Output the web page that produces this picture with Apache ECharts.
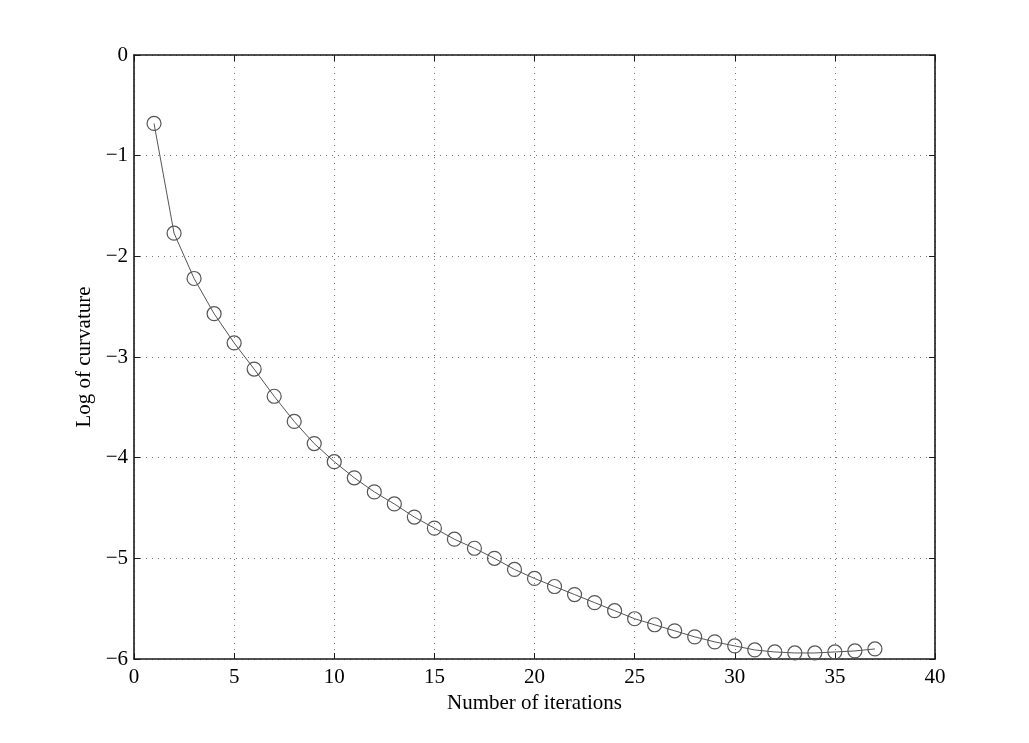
<!DOCTYPE html>
<html>
<head>
<meta charset="utf-8">
<script src="https://cdn.jsdelivr.net/npm/echarts@6/dist/echarts.min.js"></script>
<style>
  html, body { margin: 0; padding: 0; background: #fff; }
  #chart { width: 1029px; height: 743px; }
</style>
</head>
<body>
<div id="chart"></div>
<script>
// iterations and log of curvature
const iterations = [1, 2, 3, 4, 5, 6, 7, 8, 9, 10, 11, 12, 13, 14, 15, 16, 17, 18, 19,
  20, 21, 22, 23, 24, 25, 26, 27, 28, 29, 30, 31, 32, 33, 34, 35, 36, 37];
const logCurvature = [-0.68, -1.77, -2.22, -2.57, -2.86, -3.12, -3.39, -3.64, -3.86, -4.04,
  -4.20, -4.34, -4.46, -4.59, -4.70, -4.81, -4.90, -5.00, -5.11, -5.20,
  -5.28, -5.36, -5.44, -5.52, -5.60, -5.66, -5.72, -5.78, -5.83, -5.87,
  -5.91, -5.93, -5.94, -5.94, -5.93, -5.92, -5.90];

const font = "Liberation Serif";
const minus = v => String(v).replace("-", "\u2212");

const points = iterations.map((x, i) => [x, logCurvature[i]]);

// onZero off, otherwise the x axis sits on y=0 (the top edge)
const frameLine = () => ({ show: true, onZero: false, lineStyle: { color: "#1a1a1a", width: 1.6 } });
// ticks pointing into the plot, like the original
const tick = () => ({ show: true, inside: true, length: 6, lineStyle: { color: "#1a1a1a", width: 1 } });
const dotted = { show: true, lineStyle: { color: "#777", type: [1, 5], width: 1 } };

const option = {
  animation: false,
  backgroundColor: "#fff",
  grid: { left: 134, right: 94, top: 55, bottom: 84, containLabel: false },
  xAxis: [
    {
      type: "value", min: 0, max: 40, interval: 5, position: "bottom",
      name: "Number of iterations", nameLocation: "middle", nameGap: 33,
      nameTextStyle: { fontFamily: font, fontSize: 21, color: "#000" },
      axisLine: frameLine(), axisTick: tick(), splitLine: dotted,
      axisLabel: { fontFamily: font, fontSize: 21, color: "#000", margin: 8 }
    },
    {
      type: "value", min: 0, max: 40, interval: 5, position: "top",
      axisLine: frameLine(), axisTick: tick(), splitLine: { show: false },
      axisLabel: { show: false }
    }
  ],
  yAxis: [
    {
      type: "value", min: -6, max: 0, interval: 1, position: "left",
      name: "Log of curvature", nameLocation: "middle", nameGap: 37,
      nameTextStyle: { fontFamily: font, fontSize: 21, color: "#000" },
      axisLine: frameLine(), axisTick: tick(), splitLine: dotted,
      axisLabel: { fontFamily: font, fontSize: 21, color: "#000", margin: 6, formatter: minus }
    },
    {
      type: "value", min: -6, max: 0, interval: 1, position: "right",
      axisLine: frameLine(), axisTick: tick(), splitLine: { show: false },
      axisLabel: { show: false }
    }
  ],
  series: [
    {
      type: "line",
      data: points,
      xAxisIndex: 0, yAxisIndex: 0,
      symbol: "circle", symbolSize: 14,
      lineStyle: { color: "#555", width: 1 },
      itemStyle: { color: "transparent", borderColor: "#555", borderWidth: 1.2 },
      emphasis: { disabled: true }
    }
  ]
};

const myChart = echarts.init(document.getElementById("chart"));
myChart.setOption(option);
</script>
</body>
</html>
